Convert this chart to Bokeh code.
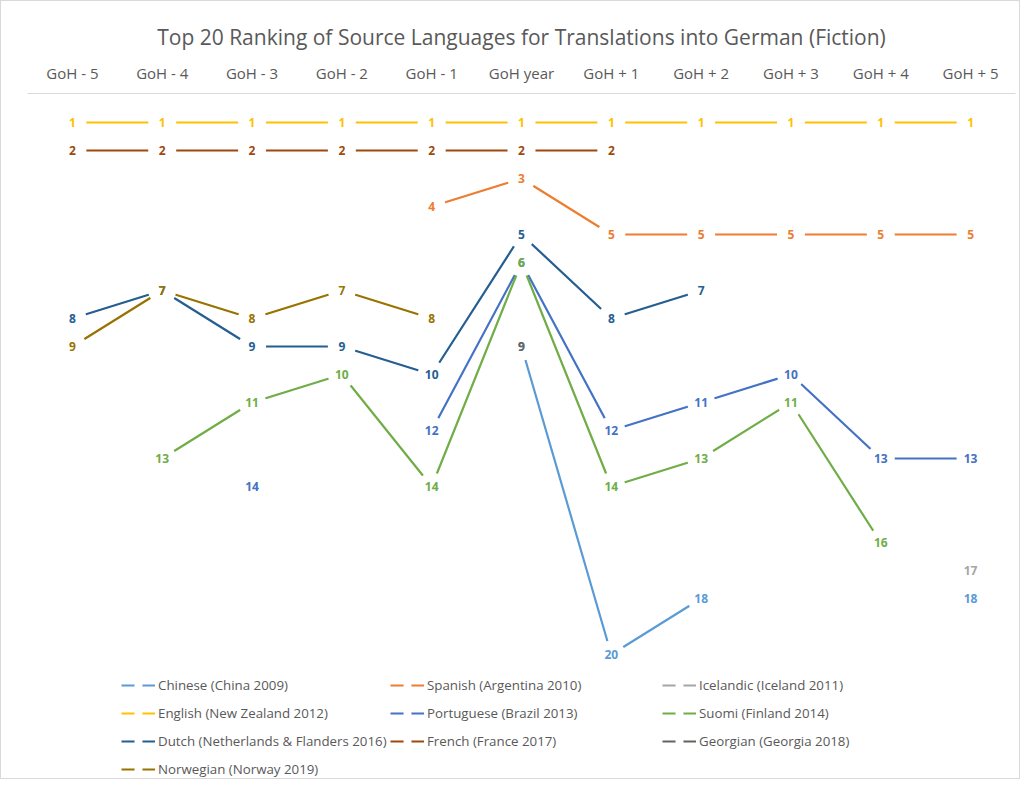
import math
from bokeh.plotting import figure
from bokeh.models import FactorRange, Range1d, Legend, LegendItem, ColumnDataSource
from bokeh.core.properties import value
from bokeh.embed import file_html
from bokeh.resources import INLINE

N = math.nan
periods = ["GoH - 5", "GoH - 4", "GoH - 3", "GoH - 2", "GoH - 1", "GoH year",
           "GoH + 1", "GoH + 2", "GoH + 3", "GoH + 4", "GoH + 5"]

chinese    = [N, N, N, N, N, 9, 20, 18, N, N, 18]
spanish    = [N, N, N, N, 4, 3, 5, 5, 5, 5, 5]
icelandic  = [N, N, N, N, N, N, N, N, N, N, 17]
english    = [1, 1, 1, 1, 1, 1, 1, 1, 1, 1, 1]
portuguese = [N, N, 14, N, 12, 6, 12, 11, 10, 13, 13]
suomi      = [N, 13, 11, 10, 14, 6, 14, 13, 11, 16, N]
dutch      = [8, 7, 9, 9, 10, 5, 8, 7, N, N, N]
french     = [2, 2, 2, 2, 2, 2, 2, N, N, N, N]
georgian   = [N, N, N, N, N, 9, N, N, N, N, N]
norwegian  = [9, 7, 8, 7, 8, N, N, N, N, N, N]

series_names = ["Chinese (China 2009)", "Spanish (Argentina 2010)", "Icelandic (Iceland 2011)",
                "English (New Zealand 2012)", "Portuguese (Brazil 2013)", "Suomi (Finland 2014)",
                "Dutch (Netherlands & Flanders 2016)", "French (France 2017)",
                "Georgian (Georgia 2018)", "Norwegian (Norway 2019)"]
series_values = [chinese, spanish, icelandic, english, portuguese, suomi, dutch, french,
                 georgian, norwegian]
series_colors = ["#5B9BD5", "#ED7D31", "#A5A5A5", "#FFC000", "#4472C4", "#70AD47",
                 "#255E91", "#9E480E", "#636363", "#997300"]

FONT = "Open Sans"
GREY = "#595959"

# layout (pixels)
W, H = 1020, 779
BL, BR, BT, BB = 26, 6, 92, 0
rank_px = 28.0
rank0_off = 1.0  # px between frame top and rank 0
frame_h = H - BT - BB
y_top = -rank0_off / rank_px
y_bot = y_top + frame_h / rank_px

p = figure(width=W, height=H, x_range=FactorRange(factors=periods, range_padding=0),
           y_range=Range1d(start=y_bot, end=y_top),
           x_axis_location="above", y_axis_location=None,
           output_backend="svg", toolbar_location=None,
           min_border_left=BL, min_border_right=BR, min_border_top=BT, min_border_bottom=BB)
p.styles = {"border": "1px solid #D9D9D9"}
p.outline_line_color = None
p.xgrid.visible = False
p.ygrid.visible = False

p.title.text = "Top 20 Ranking of Source Languages for Translations into German (Fiction)"
p.title.align = "center"
p.title.text_font = FONT
p.title.text_font_style = "normal"
p.title.text_font_size = "21px"
p.title.text_color = GREY
p.title.standoff = 18

ax = p.xaxis[0]
ax.major_label_text_font = FONT
ax.major_label_text_font_size = "15px"
ax.major_label_text_color = GREY
ax.major_tick_line_color = None
ax.minor_tick_line_color = None
ax.axis_line_color = "#D9D9D9"
ax.major_label_standoff = 5

renderers = {}
label_sources = []
for name, vals, col in zip(series_names, series_values, series_colors):
    src = ColumnDataSource(dict(x=periods, y=vals))
    lr = p.line("x", "y", source=src, line_color=col, line_width=2.2)
    sr = p.scatter("x", "y", source=src, size=28, fill_color="white", line_color=None,
                   marker="circle")
    renderers[name] = [lr, sr]
    pts = [(x, v) for x, v in zip(periods, vals) if not math.isnan(v)]
    label_sources.append((ColumnDataSource(dict(x=[a for a, _ in pts], y=[b for _, b in pts],
                                                t=[str(int(b)) for _, b in pts])), col))

for src, col in label_sources:
    p.text("x", "y", text="t", source=src, text_color=col, text_font=value(FONT),
           text_font_style="bold", text_font_size="12px", text_align="center",
           text_baseline="middle")

columns = [
    (["Chinese (China 2009)", "English (New Zealand 2012)",
      "Dutch (Netherlands & Flanders 2016)", "Norwegian (Norway 2019)"], (94, 1)),
    (["Spanish (Argentina 2010)", "Portuguese (Brazil 2013)", "French (France 2017)"], (363, 29)),
    (["Icelandic (Iceland 2011)", "Suomi (Finland 2014)", "Georgian (Georgia 2018)"], (635, 29)),
]
for names, loc in columns:
    leg = Legend(items=[LegendItem(label=n, renderers=renderers[n]) for n in names],
                 location=loc, orientation="vertical")
    leg.label_text_font = FONT
    leg.label_text_font_size = "13.3px"
    leg.label_text_color = GREY
    leg.glyph_width = 34
    leg.glyph_height = 20
    leg.label_height = 20
    leg.label_standoff = 3
    leg.spacing = 8
    leg.padding = 0
    leg.margin = 0
    leg.border_line_color = None
    leg.background_fill_alpha = 0
    p.add_layout(leg)

open("out.html", "w").write(file_html(p, INLINE))
